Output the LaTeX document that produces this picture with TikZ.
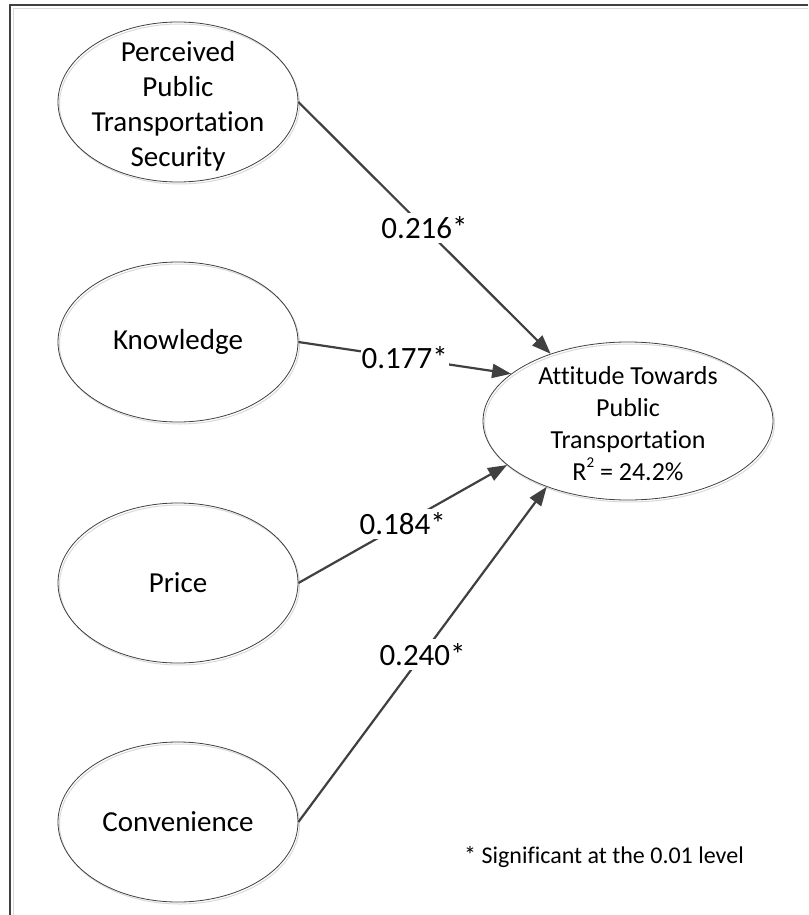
\documentclass[tikz,border=0pt]{standalone}
\usepackage{fontspec}
\setmainfont{Carlito}[Ligatures=NoCommon]
\usetikzlibrary{shapes.geometric,arrows.meta,shadows}

\definecolor{ink}{HTML}{404040}
\definecolor{halo}{HTML}{D9D9D9}

% multi-line text that does not widen the ellipse around it
\newcommand\stacked[1]{\raisebox{-.5\height}[0pt][0pt]{\makebox[0pt]{\begin{tabular}[b]{@{}c@{}}#1\end{tabular}}}}
% raised small figure for R squared
\newcommand\squared{\raisebox{.48em}{\fontsize{15}{15}\selectfont 2}}

\tikzset{
  construct/.style={ellipse, draw=ink, line width=0.8pt,
    minimum width=240pt, minimum height=160pt, inner sep=0pt,
    font=\fontsize{29}{35}\selectfont,
    general shadow={shadow xshift=1.5pt, shadow yshift=-2pt, draw=halo, line width=1pt}},
  outcome/.style={construct, minimum width=290pt, minimum height=158pt,
    font=\fontsize{26}{32}\selectfont},
  link/.style={draw=ink, line width=2.2pt, -{Triangle[length=19pt,width=14pt]}},
  coef/.style={fill=white, inner xsep=1pt, inner ysep=4pt,
    font=\fontsize{31}{37}\selectfont, midway},
  footnote/.style={font=\fontsize{24}{29}\selectfont, anchor=base}
}

\begin{document}
\begin{tikzpicture}[x=1pt,y=-1pt]
\useasboundingbox (0,0) rectangle (808,915);

% open frame: top and left edges
\draw[halo, line width=1pt] (808,9) -- (13.5,9) -- (13.5,915);
\draw[ink, line width=1.3pt] (808,5) -- (10,5) -- (10,915);

% predictors
\node[construct] (per) at (178,102)
  {\stacked{Perceived\\Public\\Transportation\\Security}};
\node[construct] (know) at (178,342) {Knowledge};
\node[construct] (price) at (178,583) {Price};
\node[construct] (conv) at (178,822) {Convenience};

% outcome
\node[outcome] (att) at (628,421)
  {\stacked{Attitude Towards\\Public\\Transportation\\R\squared{} = 24.2\%}};

% paths with standardised coefficients
\draw[link] (per.east)   -- node[coef] (c1) {0.216*} (att.139);
\draw[link] (know.east)  -- node[coef] (c2) {0.177*} (att.158);
\draw[link] (price.east) -- node[coef] (c3) {0.184*} (att.200);
\draw[link] (conv.east)  -- node[coef] (c4) {0.240*} (att.219);

\node[footnote] (note) at (604,863) {* Significant at the 0.01 level};
\end{tikzpicture}
\end{document}
